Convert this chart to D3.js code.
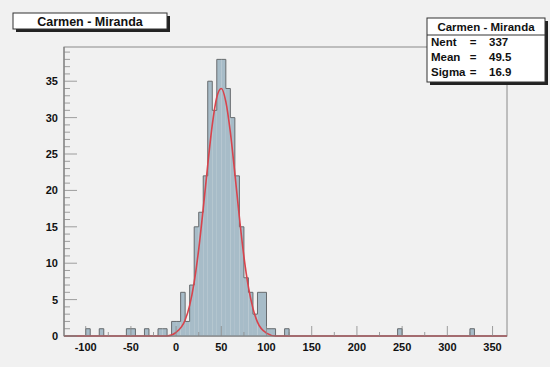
<!DOCTYPE html>
<html>
<head>
<meta charset="utf-8">
<script src="https://d3js.org/d3.v7.min.js"></script>
<style>
  body { margin: 0; background: #f1f1f1; }
  text { font-family: "Liberation Sans", Arial, sans-serif; font-weight: bold; fill: #111; }
</style>
</head>
<body>
<svg width="550" height="367"></svg>
<script>
// histogram: lower bin edges (width 5) and counts
var binLow = [-100, -85, -55, -50, -35, -20, -15, -5, 0, 5, 10, 15, 20, 25, 30, 35, 40, 45, 50, 55,
              60, 65, 70, 75, 80, 85, 90, 95, 100, 105, 120, 245, 325];
var counts = [1, 1, 1, 1, 1, 1, 1, 2, 2, 6, 2, 7, 15, 17, 22, 35, 31, 38, 38, 34,
              30, 22, 15, 8, 6, 3, 6, 6, 1, 1, 1, 1, 1];
var binWidth = 5;

// fit curve
var fitX = [-124, -10, 0, 10, 15, 20, 25, 30, 35, 40, 45, 50, 55, 60, 65, 70, 75, 80, 85, 90, 100, 110, 366];
var fitY = [0, 0, 0.5, 2.2, 4.2, 7.4, 11.9, 17.5, 23.5, 29, 32.8, 34, 32.2, 28, 22.3, 16.3, 10.9, 6.7, 3.8, 1.9, 0.4, 0, 0];

var xTicks = [-100, -50, 0, 50, 100, 150, 200, 250, 300, 350];
var yTicks = [0, 5, 10, 15, 20, 25, 30, 35];

var histTitle = "Carmen - Miranda";
var statNames = ["Nent", "Mean", "Sigma"];
var statValues = ["337", "49.5", "16.9"];

var svg = d3.select("svg");
var pL = 64, pR = 507, pT = 47, pB = 336;

var x = d3.scaleLinear().domain([-124, 366]).range([pL, pR]);
var y = d3.scaleLinear().domain([0, 39.7]).range([pB, pT]);

// frame
svg.append("rect").attr("x", pL).attr("y", pT)
   .attr("width", pR - pL).attr("height", pB - pT)
   .attr("fill", "none").attr("stroke", "#8a8a8a").attr("stroke-width", 1);

// histogram bars
svg.append("g").selectAll("rect")
   .data(binLow)
   .enter().append("rect")
   .attr("x", function(d) { return x(d); })
   .attr("y", function(d, i) { return y(counts[i]); })
   .attr("width", function(d) { return x(d + binWidth) - x(d); })
   .attr("height", function(d, i) { return pB - y(counts[i]); })
   .attr("fill", "#a7bcc8");

// outline: envelope only, like ROOT
var pts = [];
binLow.forEach(function(d, i) {
  var joined = i > 0 && binLow[i - 1] + binWidth === d;
  if (!joined) {
    if (pts.length) svgPath(pts);
    pts = [[x(d), pB]];
  }
  pts.push([x(d), y(counts[i])], [x(d + binWidth), y(counts[i])]);
});
svgPath(pts);

function svgPath(p) {
  p = p.concat([[p[p.length - 1][0], pB]]);
  svg.append("path")
     .attr("d", d3.line()(p))
     .attr("fill", "none").attr("stroke", "#676b6e").attr("stroke-width", 1);
}

// fit
var fitPts = fitX.map(function(d, i) { return [d, fitY[i]]; });
svg.append("path")
   .attr("d", d3.line().x(function(d) { return x(d[0]); }).y(function(d) { return y(d[1]); })
                .curve(d3.curveMonotoneX)(fitPts))
   .attr("fill", "none").attr("stroke", "#d8434c").attr("stroke-width", 1.6);

// y axis
var yAxis = svg.append("g");
yAxis.append("line").attr("x1", pL).attr("x2", pL).attr("y1", pT).attr("y2", pB)
     .attr("stroke", "#777");
d3.range(0, 40, 1).forEach(function(v) {
  var major = v % 5 === 0;
  yAxis.append("line").attr("x1", pL).attr("x2", pL + (major ? 13 : 6))
       .attr("y1", y(v)).attr("y2", y(v)).attr("stroke", "#888").attr("stroke-width", 0.8);
});
yAxis.selectAll("text").data(yTicks).enter().append("text")
     .attr("x", pL - 6).attr("y", function(d) { return y(d) + 4; })
     .attr("text-anchor", "end").attr("font-size", 11)
     .text(function(d) { return d; });

// x axis
var xAxis = svg.append("g");
xAxis.append("line").attr("x1", pL).attr("x2", pR).attr("y1", pB).attr("y2", pB)
     .attr("stroke", "#777");
d3.range(-100, 366, 25).forEach(function(v) {
  var major = v % 50 === 0;
  xAxis.append("line").attr("x1", x(v)).attr("x2", x(v))
       .attr("y1", pB).attr("y2", pB - (major ? 10 : 4))
       .attr("stroke", "#888").attr("stroke-width", 0.8);
});
xAxis.selectAll("text").data(xTicks).enter().append("text")
     .attr("x", function(d) { return x(d); }).attr("y", pB + 15)
     .attr("text-anchor", "middle").attr("font-size", 11)
     .text(function(d) { return d; });

// title box
svg.append("rect").attr("x", 16).attr("y", 16).attr("width", 154).attr("height", 16).attr("fill", "#222");
svg.append("rect").attr("x", 13).attr("y", 13).attr("width", 154).attr("height", 16)
   .attr("fill", "#fff").attr("stroke", "#333").attr("stroke-width", 1);
svg.append("text").attr("x", 90).attr("y", 25.5).attr("text-anchor", "middle")
   .attr("font-size", 12.5).text(histTitle);

// stats box
var sx = 427, sy = 18, sw = 118, sh = 64;
svg.append("rect").attr("x", sx + 3).attr("y", sy + 3).attr("width", sw).attr("height", sh).attr("fill", "#222");
svg.append("rect").attr("x", sx).attr("y", sy).attr("width", sw).attr("height", sh)
   .attr("fill", "#fff").attr("stroke", "#333").attr("stroke-width", 1);
svg.append("text").attr("x", sx + sw / 2).attr("y", sy + 13).attr("text-anchor", "middle")
   .attr("font-size", 11.5).text(histTitle);
svg.append("line").attr("x1", sx).attr("x2", sx + sw).attr("y1", sy + 17).attr("y2", sy + 17)
   .attr("stroke", "#333");
statNames.forEach(function(n, i) {
  var yy = sy + 28 + i * 15;
  svg.append("text").attr("x", sx + 4).attr("y", yy).attr("font-size", 11.5).text(n);
  svg.append("text").attr("x", sx + 46).attr("y", yy).attr("text-anchor", "middle").attr("font-size", 11.5).text("=");
  svg.append("text").attr("x", sx + 62).attr("y", yy).attr("font-size", 11.5).text(statValues[i]);
});
</script>
</body>
</html>
